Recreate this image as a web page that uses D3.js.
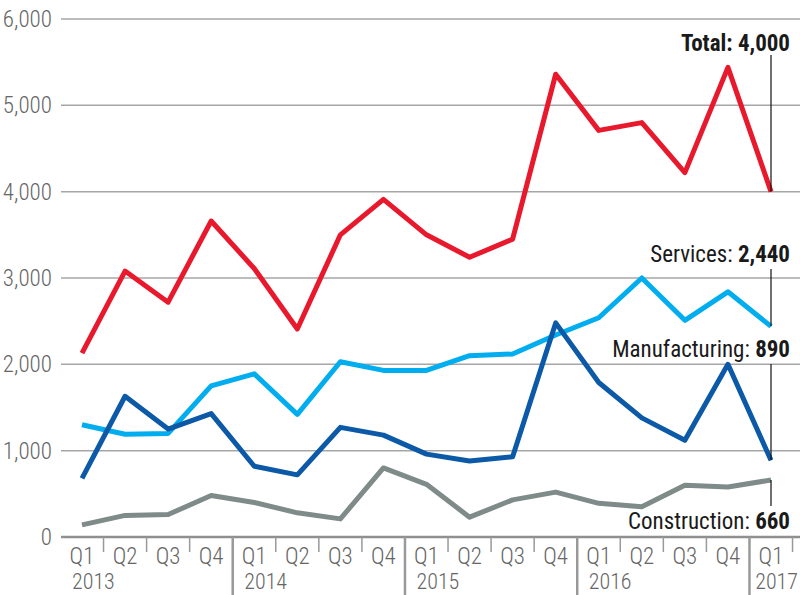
<!DOCTYPE html>
<html>
<head>
<meta charset="utf-8">
<script src="https://cdn.jsdelivr.net/npm/d3@7"></script>
<style>
  body { margin: 0; background: #fff; }
  svg { display: block; font-family: "Roboto Condensed", "Roboto", sans-serif; }
</style>
</head>
<body>
<div id="chart"></div>
<script>
// quarterly series, Q1 2013 .. Q1 2017
const quarters = ["Q1","Q2","Q3","Q4","Q1","Q2","Q3","Q4","Q1","Q2","Q3","Q4","Q1","Q2","Q3","Q4","Q1"];
const years = ["2013","2014","2015","2016","2017"];
const yTicks = [0, 1000, 2000, 3000, 4000, 5000, 6000];

const total = [2130, 3080, 2720, 3660, 3110, 2410, 3500, 3910, 3500, 3240, 3450, 5360, 4710, 4800, 4220, 5440, 4000];
const services = [1300, 1190, 1200, 1750, 1890, 1420, 2030, 1930, 1930, 2100, 2120, 2340, 2540, 3000, 2510, 2840, 2440];
const manufacturing = [680, 1630, 1250, 1430, 820, 720, 1270, 1180, 960, 880, 930, 2480, 1790, 1380, 1120, 2000, 890];
const construction = [140, 250, 260, 480, 400, 280, 210, 800, 610, 230, 430, 520, 390, 350, 600, 580, 660];

const series = [
  { name: "Services", values: services, color: "#00adef" },
  { name: "Manufacturing", values: manufacturing, color: "#0b59a7" },
  { name: "Construction", values: construction, color: "#7e8b88" },
  { name: "Total", values: total, color: "#e8192c" }
];

const width = 800;
const height = 595;

const svg = d3.select("#chart")
  .append("svg")
  .attr("width", width)
  .attr("height", height);

const idx = d3.range(quarters.length);

const x = d3.scaleLinear()
  .domain([0, quarters.length - 1])
  .range([82, 771]);

const y = d3.scaleLinear()
  .domain([0, 6000])
  .range([537, 19]);

const step = x(1) - x(0);

// gridlines + y labels
svg.selectAll(".grid")
  .data(yTicks.filter(d => d > 0))
  .enter()
  .append("line")
  .attr("x1", 61)
  .attr("x2", width)
  .attr("y1", d => y(d))
  .attr("y2", d => y(d))
  .attr("stroke", "#a6a6a6")
  .attr("stroke-width", 1.5);

svg.selectAll(".ylab")
  .data(yTicks)
  .enter()
  .append("text")
  .attr("x", 52)
  .attr("y", d => y(d) + 8)
  .attr("text-anchor", "end")
  .style("font-size", "23px")
  .style("font-weight", 300)
  .style("fill", "#666")
  .text(d => d3.format(",")(d));

// x axis
svg.append("line")
  .attr("x1", 61)
  .attr("x2", width)
  .attr("y1", y(0))
  .attr("y2", y(0))
  .attr("stroke", "#8f8f8f")
  .attr("stroke-width", 2.5);

svg.selectAll(".qtick")
  .data(idx)
  .enter()
  .append("line")
  .attr("x1", d => x(d) + step / 2)
  .attr("x2", d => x(d) + step / 2)
  .attr("y1", y(0))
  .attr("y2", d => (d % 4 === 3) ? height : y(0) + 15)
  .attr("stroke", "#999")
  .attr("stroke-width", d => (d % 4 === 3) ? 2.5 : 1.5);

svg.selectAll(".qlab")
  .data(idx)
  .enter()
  .append("text")
  .attr("x", d => x(d))
  .attr("y", 564)
  .attr("text-anchor", "middle")
  .style("font-size", "23px")
  .style("font-weight", 300)
  .style("fill", "#666")
  .text(d => quarters[d]);

svg.selectAll(".yearlab")
  .data(years)
  .enter()
  .append("text")
  .attr("x", (d, i) => i === years.length - 1 ? width - 2 : x(i * 4) - 10)
  .attr("y", 589)
  .attr("text-anchor", (d, i) => i === years.length - 1 ? "end" : "start")
  .style("font-size", "22px")
  .style("font-weight", 300)
  .style("fill", "#666")
  .text(d => d);

// lines
const line = d3.line()
  .x((d, i) => x(i))
  .y(d => y(d));

svg.selectAll(".series")
  .data(series)
  .enter()
  .append("path")
  .attr("d", d => line(d.values))
  .attr("fill", "none")
  .attr("stroke", d => d.color)
  .attr("stroke-width", 5)
  .attr("stroke-linejoin", "round");

// end labels with leader lines
const last = quarters.length - 1;
const labels = [
  { name: "Total", value: total[last], ty: 51, y1: 55, y2: y(total[last]), boldName: true },
  { name: "Services", value: services[last], ty: 262, y1: 269, y2: y(services[last]) },
  { name: "Manufacturing", value: manufacturing[last], ty: 357, y1: 364, y2: y(manufacturing[last]) },
  { name: "Construction", value: construction[last], ty: 529, y1: y(construction[last]), y2: 506 }
];

labels.forEach(l => {
  svg.append("line")
    .attr("x1", x(last))
    .attr("x2", x(last))
    .attr("y1", l.y1)
    .attr("y2", l.y2)
    .attr("stroke", "#111")
    .attr("stroke-width", 1.2);

  const t = svg.append("text")
    .attr("x", 790)
    .attr("y", l.ty)
    .attr("text-anchor", "end")
    .style("font-size", "23px")
    .style("fill", "#1a1a1a");

  t.append("tspan")
    .style("font-weight", l.boldName ? "bold" : "normal")
    .text(l.name + ": ");

  t.append("tspan")
    .style("font-weight", "bold")
    .text(d3.format(",")(l.value));
});
</script>
</body>
</html>
